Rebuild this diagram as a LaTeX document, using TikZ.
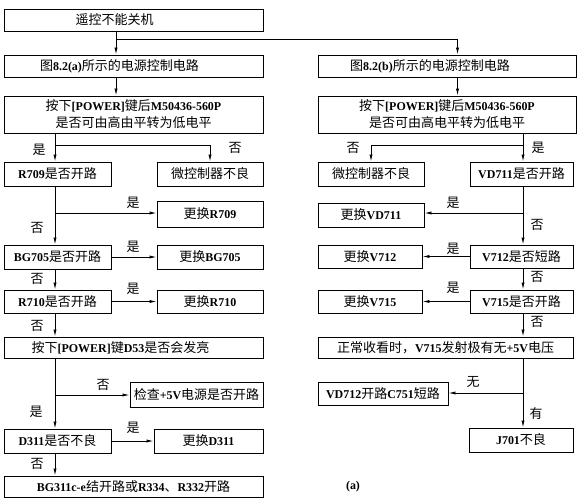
\documentclass[tikz,border=0pt]{standalone}
\usepackage{fontspec}
\setmainfont{Liberation Serif}[Scale=0.92]
\newfontfamily\cjk{Noto Sans CJK SC}
\newcommand\zh[1]{{\cjk\mdseries #1}}
\usetikzlibrary{arrows.meta}

\begin{document}
\begin{tikzpicture}[x=1pt,y=-1pt,line width=0.9pt,
  box/.style={draw,minimum height=24pt,inner sep=0pt,align=center,font=\fontsize{13}{17}\selectfont\bfseries},
  tag/.style={font=\fontsize{13}{16}\selectfont\cjk},
  >={Latex[length=7pt,width=3.2pt]}]

\useasboundingbox (0,0) rectangle (580,500);

% top
\node[box,minimum width=259pt,minimum height=22pt] (Fault) at (133.5,20) {\zh{遥控不能关机}\hspace*{38pt}};
\node[box,minimum width=259pt,minimum height=22pt] (CircuitA) at (133.5,66) {\zh{图}8.2(a)\zh{所示的电源控制电路}\hspace*{28pt}};
\node[box,minimum width=258pt,minimum height=22pt] (CircuitB) at (447,66) {\zh{图}8.2(b)\zh{所示的电源控制电路}\hspace*{34pt}};
\node[box,minimum width=259pt,minimum height=37pt] (LevelA) at (133.5,114.5) {\zh{按下}[POWER]\zh{键后}M50436-560P\\\zh{是否可由高由平转为低电平}};
\node[box,minimum width=258pt,minimum height=37pt] (LevelB) at (447,114.5) {\zh{按下}[POWER]\zh{键后}M50436-560P\\\zh{是否可由高电平转为低电平}};

\coordinate (SplitA) at (116,39);
\coordinate (SplitB) at (457.5,39);
\coordinate (ForkA) at (55,145);
\coordinate (ForkB) at (523,145);
\coordinate (TapR709) at (55,213);
\coordinate (TapD53) at (55,395);
\coordinate (TapVD711) at (523,213);
\coordinate (TapEmitter) at (523,393);

% left: circuit (a)
\node[box,minimum width=107pt] (CheckR709) at (57.5,174) {R709\zh{是否开路}};
\node[box,minimum width=106pt] (MicroA) at (210,174) {\zh{微控制器不良}};
\node[box,minimum width=106pt,minimum height=26pt] (SwapR709) at (210,214) {\zh{更换}R709};
\node[box,minimum width=107pt] (CheckBG705) at (57.5,257) {BG705\zh{是否开路}};
\node[box,minimum width=106pt] (SwapBG705) at (210,257) {\zh{更换}BG705};
\node[box,minimum width=107pt,minimum height=23pt] (CheckR710) at (57.5,301.5) {R710\zh{是否开路}};
\node[box,minimum width=106pt,minimum height=23pt] (SwapR710) at (210,301.5) {\zh{更换}R710};
\node[box,minimum width=259pt,minimum height=21pt] (LedD53) at (133.5,347.5) {\zh{按下}[POWER]\zh{键}D53\zh{是否会发亮}\hspace*{26pt}};
\node[box,minimum width=133pt,minimum height=25pt] (Supply5V) at (196.5,394.5) {\zh{检查}+5V\zh{电源是否开路}};
\node[box,minimum width=107pt] (CheckD311) at (57.5,441) {D311\zh{是否不良}};
\node[box,minimum width=109pt] (SwapD311) at (208.5,441) {\zh{更换}D311};
\node[box,minimum width=259pt,minimum height=21pt] (FaultBG311) at (133.5,486.5) {BG311c-e\zh{结开路或}R334\zh{、}R332\zh{开路}};

% right: circuit (b)
\node[box,minimum width=106pt] (MicroB) at (371,174) {\zh{微控制器不良}};
\node[box,minimum width=103pt] (CheckVD711) at (521.5,174) {VD711\zh{是否开路}};
\node[box,minimum width=106pt] (SwapVD711) at (371,215) {\zh{更换}VD711};
\node[box,minimum width=103pt,minimum height=23pt] (CheckV712) at (521.5,256.5) {V712\zh{是否短路}};
\node[box,minimum width=104pt,minimum height=23pt] (SwapV712) at (370,256.5) {\zh{更换}V712};
\node[box,minimum width=103pt,minimum height=23pt] (CheckV715) at (521.5,301.5) {V715\zh{是否开路}};
\node[box,minimum width=104pt,minimum height=23pt] (SwapV715) at (370,301.5) {\zh{更换}V715};
\node[box,minimum width=255pt,minimum height=21pt] (Emitter) at (445.5,347.5) {\zh{正常收看时，}V715\zh{发射极有无}+5V\zh{电压}};
\node[box,minimum width=130pt,minimum height=23pt] (FaultVD712) at (383,393.5) {VD712\zh{开路}C751\zh{短路}};
\node[box,minimum width=104pt] (FaultJ701) at (521,440) {J701\zh{不良}};

% arrows
\draw (SplitA |- Fault.south) -- (SplitA) -- (SplitB);
\draw[->] (SplitA) -- (SplitA |- CircuitA.north);
\draw[->] (SplitB) -- (SplitB |- CircuitB.north);
\draw[->] (SplitA |- CircuitA.south) -- (SplitA |- LevelA.north);
\draw[->] (SplitB |- CircuitB.south) -- (SplitB |- LevelB.north);

\draw[->] (ForkA |- LevelA.south) -- (ForkA) -| (MicroA.north);
\draw[->] (ForkA) -- (ForkA |- CheckR709.north);
\draw[->] (ForkA |- CheckR709.south) -- (ForkA |- CheckBG705.north);
\draw[->] (TapR709) -- (TapR709 -| SwapR709.west);
\draw[->] (CheckBG705.east) -- (SwapBG705.west);
\draw[->] (ForkA |- CheckBG705.south) -- (ForkA |- CheckR710.north);
\draw[->] (CheckR710.east) -- (SwapR710.west);
\draw[->] (ForkA |- CheckR710.south) -- (ForkA |- LedD53.north);
\draw[->] (ForkA |- LedD53.south) -- (ForkA |- CheckD311.north);
\draw[->] (TapD53) -- (TapD53 -| Supply5V.west);
\draw[->] (CheckD311.east) -- (SwapD311.west);
\draw[->] (ForkA |- CheckD311.south) -- (ForkA |- FaultBG311.north);

\draw[->] (ForkB |- LevelB.south) -- (ForkB) -| (MicroB.north);
\draw[->] (ForkB) -- (ForkB |- CheckVD711.north);
\draw[->] (ForkB |- CheckVD711.south) -- (ForkB |- CheckV712.north);
\draw[->] (TapVD711) -- (TapVD711 -| SwapVD711.east);
\draw[->] (CheckV712.west) -- (SwapV712.east);
\draw[->] (ForkB |- CheckV712.south) -- (ForkB |- CheckV715.north);
\draw[->] (CheckV715.west) -- (SwapV715.east);
\draw[->] (ForkB |- CheckV715.south) -- (ForkB |- Emitter.north);
\draw[->] (ForkB |- Emitter.south) -- (ForkB |- FaultJ701.north);
\draw[->] (TapEmitter) -- (TapEmitter -| FaultVD712.east);

% yes / no
\node[tag] (YesLevelA) at (39,150) {是};
\node[tag] (NoLevelA) at (235,148) {否};
\node[tag] (YesR709) at (133,203) {是};
\node[tag] (NoR709) at (37,228) {否};
\node[tag] (YesBG705) at (133,247) {是};
\node[tag] (NoBG705) at (37,279) {否};
\node[tag] (YesR710) at (133,289) {是};
\node[tag] (NoR710) at (37,326) {否};
\node[tag] (NoD53) at (103,385) {否};
\node[tag] (YesD53) at (36,412) {是};
\node[tag] (YesD311) at (133,428) {是};
\node[tag] (NoD311) at (37,464) {否};

\node[tag] (NoLevelB) at (353,148) {否};
\node[tag] (YesLevelB) at (538,148) {是};
\node[tag] (YesVD711) at (453,203) {是};
\node[tag] (NoVD711) at (537,225) {否};
\node[tag] (YesV712) at (453,249) {是};
\node[tag] (NoV712) at (537,277) {否};
\node[tag] (YesV715) at (453,288) {是};
\node[tag] (NoV715) at (537,322) {否};
\node[tag] (NoEmitter) at (473,382) {无};
\node[tag] (HasEmitter) at (536,414) {有};

\node[font=\fontsize{13}{16}\selectfont\bfseries] (Caption) at (353,487) {(a)};

\end{tikzpicture}
\end{document}
